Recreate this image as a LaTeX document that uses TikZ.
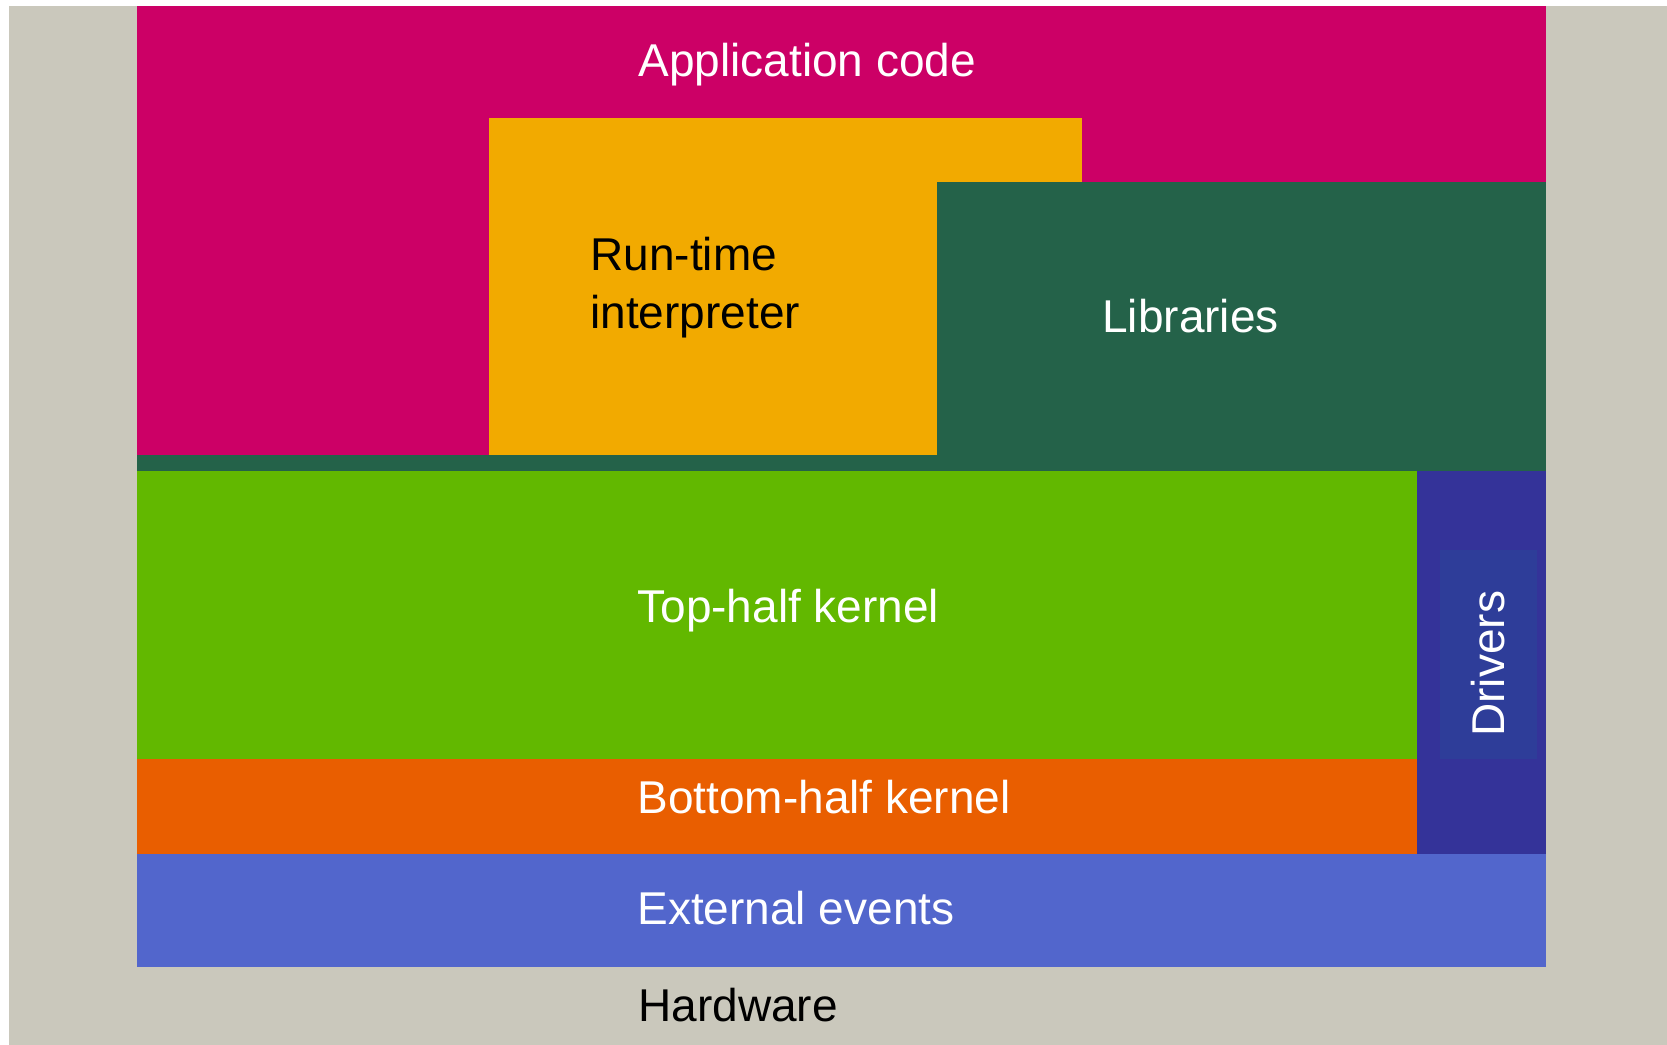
\documentclass[tikz,border=0pt]{standalone}
\usepackage{fontspec}
\setmainfont{Liberation Sans}
\definecolor{hardware}{RGB}{202,200,188}
\definecolor{appcode}{RGB}{204,0,102}
\definecolor{runtime}{RGB}{242,170,0}
\definecolor{libs}{RGB}{36,98,73}
\definecolor{tophalf}{RGB}{98,184,0}
\definecolor{bothalf}{RGB}{233,94,0}
\definecolor{drivers}{RGB}{52,51,153}
\definecolor{driversin}{RGB}{46,61,153}
\definecolor{external}{RGB}{82,102,204}
\tikzset{
    layer text/.style = {
        anchor = base west,
        inner sep = 0pt,
        font = \fontsize{23}{29}\selectfont,
        text = white,
        },
    dark text/.style = {
        text = black,
        },
}

\begin{document}
\begin{tikzpicture}[x=0.5pt, y=-0.5pt]
            \useasboundingbox (0,0) rectangle (1667,1045);
            \fill[hardware] (9,6) rectangle (1667,1045);

            \fill[appcode] (137,6) rectangle (1546,471);
            \fill[runtime] (489,118) rectangle (1082,455);
            \fill[libs] (937,182) rectangle (1546,471);
            \fill[libs] (137,455) rectangle (1546,471);
            \fill[tophalf] (137,471) rectangle (1417,759);
            \fill[bothalf] (137,759) rectangle (1417,854);
            \fill[drivers] (1417,471) rectangle (1546,854);
            \fill[driversin] (1440,550) rectangle (1537,759);
            \fill[external] (137,854) rectangle (1546,967);

            \node[layer text] (app) at (638,76) {Application code};
            \node[layer text, dark text, align=left] (rt) at (590,328) {Run-time\\interpreter};
            \node[layer text] (lib) at (1102,332) {Libraries};
            \node[layer text] (top) at (637,622) {Top-half kernel};
            \node[layer text] (bot) at (637,813) {Bottom-half kernel};
            \node[layer text, rotate=90] (drv) at (1504,737) {Drivers};
            \node[layer text] (ext) at (637,924) {External events};
            \node[layer text, dark text] (hw) at (638,1021) {Hardware};
        \end{tikzpicture}
\end{document}
